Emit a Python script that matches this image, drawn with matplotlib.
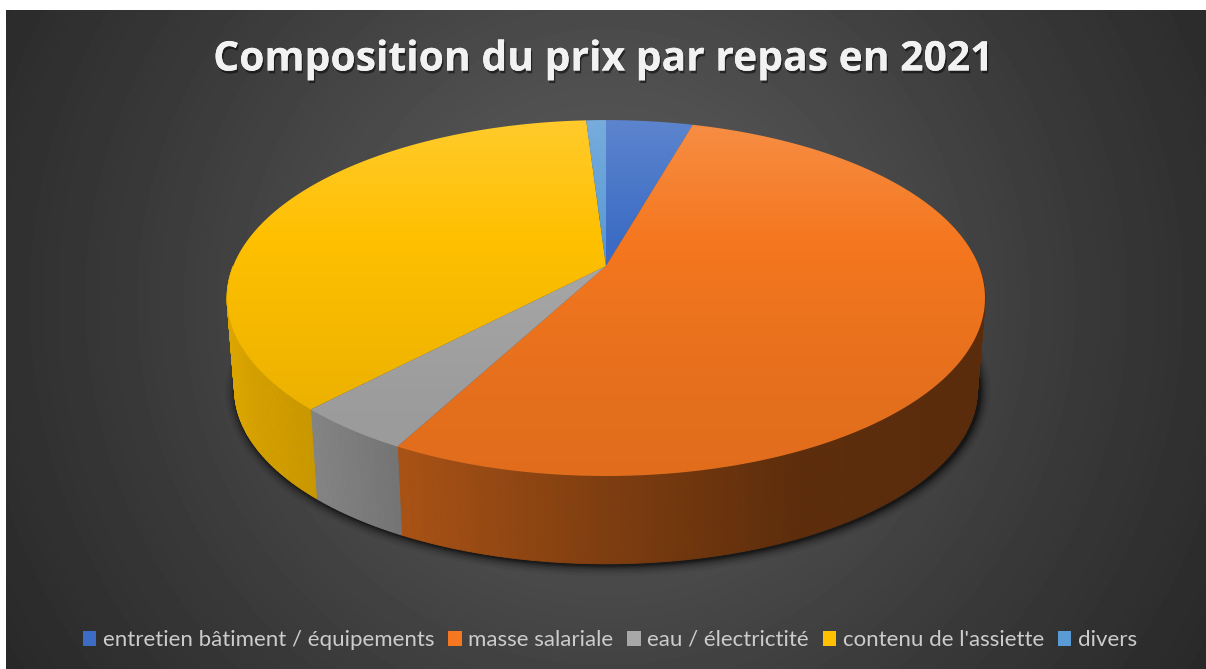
import numpy as np
import matplotlib
matplotlib.use("Agg")
import matplotlib.pyplot as plt
import matplotlib.patheffects as pe
from matplotlib.patches import Polygon, Patch
from matplotlib.collections import PolyCollection

categories = ["entretien bâtiment / équipements", "masse salariale", "eau / électrictité",
              "contenu de l'assiette", "divers"]
valeurs = [4.4, 53.4, 4.3, 36.9, 1.0]

couleurs = ["#3c6cc4", "#f5771f", "#a8a8a8", "#ffc000", "#5b9bd5"]

titre = "Composition du prix par repas en 2021"

W, H = 1206, 669

# geometrie du camembert (perspective)
CX, CY = 606, 266
A, B, K = 372.8, 172.2, 0.18
ECH_BAS, CY_BAS = 0.98, 358


def hex2rgb(c):
    return np.array(matplotlib.colors.to_rgb(c))


def projette(theta, bas=False):
    u, v = np.sin(theta), np.cos(theta)
    w = 1 + K * v
    x, y = A * u / w, -B * v / w
    if bas:
        return CX + ECH_BAS * x, CY_BAS + ECH_BAS * y
    return CX + x, CY + y


def degrade_haut(c, y):
    # plus clair en haut, plus sombre en bas
    c = hex2rgb(c)
    clair = np.interp(y, [120, 240], [0.17, 0.0])
    sombre = np.interp(y, [240, 400, 480], [1.0, 0.93, 0.92])
    return (c + (1 - c) * clair[..., None]) * sombre[..., None]


def ombre_cote(x):
    return np.interp(x, [227, 310, 400, 600, 800, 985], [0.86, 0.79, 0.69, 0.52, 0.38, 0.37])


fig = plt.figure(figsize=(W / 100, H / 100), dpi=100, facecolor="white")
ax = fig.add_axes([0, 0, 1, 1])
ax.set_xlim(0, W)
ax.set_ylim(H, 0)
ax.axis("off")

# fond radial
yy, xx = np.mgrid[10:H, 6:W]
r = np.hypot(xx - 606, yy - 300) / 700
fond = np.interp(r, [0, 0.3, 0.7, 1], [0x5a, 0x50, 0x38, 0x29]) / 255
ax.imshow(fond, cmap="gray", vmin=0, vmax=1, extent=(6, W, H, 10), aspect="auto",
          interpolation="bilinear", zorder=0)

# ombre portee sous le camembert
t = np.linspace(0, 2 * np.pi, 400)
ox, oy = projette(t, bas=True)
for lw, al in zip([22, 17, 13, 9, 6, 3], [0.05, 0.08, 0.11, 0.15, 0.2, 0.3]):
    ax.plot(ox + 2, oy + 1, color="black", lw=lw * 0.72, alpha=al, zorder=1)

# parts
bornes = np.concatenate([[0], np.cumsum(valeurs)]) / np.sum(valeurs) * 2 * np.pi

# cotes
for i, c in enumerate(couleurs):
    th = np.linspace(bornes[i], bornes[i + 1], max(3, int(np.degrees(bornes[i + 1] - bornes[i])) * 2))
    quads, cols = [], []
    for a, b in zip(th[:-1], th[1:]):
        if np.cos((a + b) / 2) > 0:
            continue
        x1, y1 = projette(a)
        x2, y2 = projette(b)
        x3, y3 = projette(b, True)
        x4, y4 = projette(a, True)
        quads.append([(x1, y1), (x2, y2), (x3, y3), (x4, y4)])
        cols.append(hex2rgb(c) * ombre_cote((x1 + x2) / 2))
    if quads:
        ax.add_collection(PolyCollection(quads, facecolors=cols, edgecolors=cols, linewidths=0.6, zorder=2))

# dessus, degrade vertical
ygrille = np.arange(110, 490)[:, None]
for i, c in enumerate(couleurs):
    th = np.linspace(bornes[i], bornes[i + 1], 200)
    px, py = projette(th)
    poly = Polygon(np.column_stack([np.r_[CX, px], np.r_[CY, py]]), closed=True,
                   transform=ax.transData, facecolor="none", edgecolor="none")
    ax.add_patch(poly)
    img = degrade_haut(c, ygrille.astype(float))
    im = ax.imshow(img[:, None, :].reshape(len(ygrille), 1, 3), extent=(200, 1000, 490, 110), aspect="auto",
                   interpolation="bilinear", zorder=3)
    im.set_clip_path(poly)

ax.set_xlim(0, W)
ax.set_ylim(H, 0)

ax.text(604, 60, titre, color="#f2f2f2", fontsize=29.4, fontweight="bold", family="Open Sans",
        ha="center", va="center", zorder=5,
        path_effects=[pe.withSimplePatchShadow(offset=(1, -2), shadow_rgbFace="black", alpha=0.5), pe.Normal()])

poignees = [Patch(facecolor=c, edgecolor="none") for c in couleurs]
fig.legend(poignees, categories, loc="center", bbox_to_anchor=(610 / W, 1 - 640 / H), ncol=5, frameon=False,
           prop={"family": "Lato", "size": 16}, labelcolor="#cccccc", handlelength=0.6, handleheight=0.65,
           handletextpad=0.3, columnspacing=0.62)

fig.savefig("out.png", dpi=100, facecolor="white")
